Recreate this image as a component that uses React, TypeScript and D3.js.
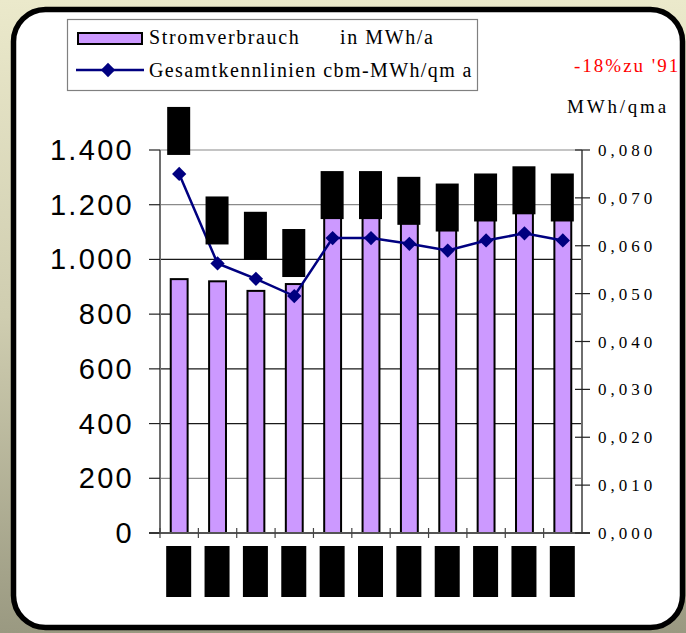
import React from "react";
import * as d3 from "d3";

const years = ["1991", "1992", "1993", "1994", "1995", "1996", "1997", "1998", "1999", "2000", "2001"];
const stromverbrauch = [928, 920, 885, 910, 1190, 1192, 1202, 1162, 1190, 1246, 1290];
const kennlinien = [0.075, 0.0563, 0.0531, 0.0495, 0.0616, 0.0616, 0.0604, 0.059, 0.0611, 0.0626, 0.0611];
const leftTicks = [0, 200, 400, 600, 800, 1000, 1200, 1400];
const rightTicks = [0, 0.01, 0.02, 0.03, 0.04, 0.05, 0.06, 0.07, 0.08];
const legendBar = "Stromverbrauch";
const legendBarUnit = "in MWh/a";
const legendLine = "Gesamtkennlinien cbm-MWh/qm a";
const note = "-18%zu '91";
const rightUnit = "MWh/qma";

const W = 686;
const H = 633;
const plot = { left: 160, right: 582, top: 150, bottom: 533 };
const serif = "'Liberation Serif', 'Times New Roman', serif";
const sans = "'Liberation Sans', Arial, sans-serif";

export default function App() {
  const x = d3.scaleBand<string>().domain(years).range([plot.left, plot.right]).padding(0);
  const yL = d3.scaleLinear().domain([0, 1400]).range([plot.bottom, plot.top]);
  const yR = d3.scaleLinear().domain([0, 0.08]).range([plot.bottom, plot.top]);
  const bw = x.bandwidth() * 0.44;
  const cx = (d: string) => (x(d) as number) + x.bandwidth() / 2;
  const line = d3
    .line<number>()
    .x((_, i) => cx(years[i]))
    .y((v) => yR(v));
  const diamond = d3.symbol().type(d3.symbolDiamond2).size(130)() as string;
  const fmtL = (v: number) => d3.format(",")(v).replace(/,/g, ".");
  const fmtR = (v: number) => d3.format(".3f")(v).replace(".", ",");
  const grayGrid = [1400, 1200, 200];

  return (
    <svg
      width={W}
      height={H}
      style={{ position: "absolute", left: 0, top: 0, display: "block" }}
    >
      <defs>
        <linearGradient id="bg" x1="0" y1="0" x2="0" y2="1">
          <stop offset="0" stopColor="#ebe9cb" />
          <stop offset="0.5" stopColor="#cfcdb0" />
          <stop offset="1" stopColor="#9a9981" />
        </linearGradient>
      </defs>
      <rect x={0} y={0} width={W} height={H} fill="url(#bg)" />
      <rect x={13.5} y={9.5} width={669} height={618} rx={32} ry={32} fill="#ffffff" stroke="#000" strokeWidth={5.5} />

      {/* gridlines */}
      {leftTicks.filter((t) => t > 0).map((t) => (
        <line key={"g" + t} x1={plot.left} x2={plot.right} y1={yL(t)} y2={yL(t)} stroke={grayGrid.includes(t) ? "#8a8a8a" : "#1a1a1a"} strokeWidth={1.2} />
      ))}

      {/* bars */}
      {stromverbrauch.map((v, i) => (
        <rect key={"b" + i} x={cx(years[i]) - bw / 2} y={yL(v)} width={bw} height={yL(0) - yL(v)} fill="#cc99ff" stroke="#000" strokeWidth={2} />
      ))}

      {/* axes */}
      <line x1={plot.left} x2={plot.left} y1={plot.top} y2={plot.bottom} stroke="#6e6e6e" strokeWidth={2} />
      <line x1={plot.right} x2={plot.right} y1={plot.top} y2={plot.bottom} stroke="#6e6e6e" strokeWidth={2} />
      <line x1={plot.left - 11} x2={plot.right + 8} y1={plot.bottom} y2={plot.bottom} stroke="#555" strokeWidth={2} />
      {leftTicks.map((t) => (
        <line key={"lt" + t} x1={plot.left - 11} x2={plot.left} y1={yL(t)} y2={yL(t)} stroke="#222" strokeWidth={1.2} />
      ))}
      {rightTicks.map((t) => (
        <line key={"rt" + t} x1={plot.right - 7} x2={plot.right + 8} y1={yR(t)} y2={yR(t)} stroke="#222" strokeWidth={1.2} />
      ))}
      {years.map((yv) => (
        <line key={"xt" + yv} x1={x(yv) as number} x2={x(yv) as number} y1={plot.bottom - 5} y2={plot.bottom + 5} stroke="#444" strokeWidth={1.2} />
      ))}

      {/* left labels */}
      {leftTicks.map((t) => (
        <text key={"ll" + t} x={134} y={yL(t) + 10} textAnchor="end" fontFamily={sans} fontSize={29} letterSpacing={2.3} fill="#000">
          {fmtL(t)}
        </text>
      ))}
      {/* right labels */}
      {rightTicks.map((t) => (
        <text key={"rl" + t} x={598} y={yR(t) + 6} fontFamily={serif} fontSize={17} letterSpacing={4} fill="#000">
          {fmtR(t)}
        </text>
      ))}

      {/* line */}
      <path d={line(kennlinien) as string} fill="none" stroke="#000080" strokeWidth={2.5} />
      {kennlinien.map((v, i) => (
        <path key={"d" + i} d={diamond} transform={`translate(${cx(years[i])},${yR(v)})`} fill="#000080" />
      ))}

      {/* redacted point labels */}
      {kennlinien.map((v, i) => (
        <rect key={"pl" + i} x={cx(years[i]) - 12} y={yR(v) - 19 - 48} width={23} height={48} fill="#000" />
      ))}
      {/* redacted category labels */}
      {years.map((yv) => (
        <rect key={"cl" + yv} x={cx(yv) - 13} y={plot.bottom + 13} width={25} height={51} fill="#000" />
      ))}

      {/* legend */}
      <rect x={67.5} y={19.5} width={410} height={71} fill="#fff" stroke="#808080" strokeWidth={1.2} />
      <rect x={78} y={33} width={64} height={11} fill="#cc99ff" stroke="#000" strokeWidth={2} />
      <text x={149} y={44} fontFamily={serif} fontSize={20} letterSpacing={1.6} fill="#000">
        {legendBar}
      </text>
      <text x={340} y={44} fontFamily={serif} fontSize={20} letterSpacing={1.6} fill="#000">
        {legendBarUnit}
      </text>
      <line x1={76} x2={144} y1={70} y2={70} stroke="#000080" strokeWidth={2.5} />
      <path d={diamond} transform="translate(108,70)" fill="#000080" />
      <text x={149} y={77} fontFamily={serif} fontSize={20} letterSpacing={1.4} fill="#000">
        {legendLine}
      </text>

      <text x={574} y={72} fontFamily={serif} fontSize={19} letterSpacing={2} fill="#ff0000">
        {note}
      </text>
      <text x={567} y={113} fontFamily={serif} fontSize={19} letterSpacing={2.8} fill="#000">
        {rightUnit}
      </text>
    </svg>
  );
}
